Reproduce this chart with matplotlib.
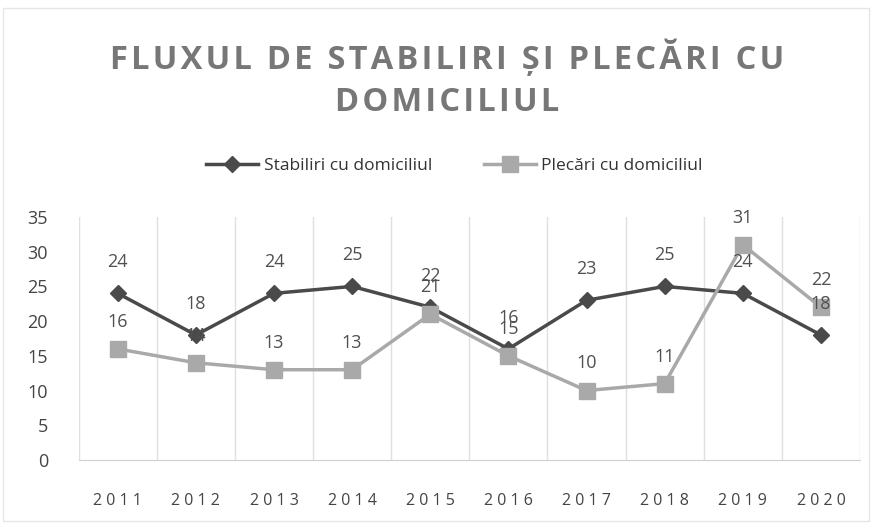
import matplotlib.pyplot as plt
from matplotlib.patches import Rectangle

# Date
ani = ["2011", "2012", "2013", "2014", "2015", "2016", "2017", "2018", "2019", "2020"]
stabiliri = [24, 18, 24, 25, 22, 16, 23, 25, 24, 18]
plecari = [16, 14, 13, 13, 21, 15, 10, 11, 31, 22]
titlu = ["FLUXUL DE STABILIRI ȘI PLECĂRI CU", "DOMICILIUL"]

plt.rcParams['font.family'] = ['Open Sans', 'DejaVu Sans']

fig = plt.figure(figsize=(8.74, 5.26), dpi=100)
ax = fig.add_axes([0.090, 0.1255, 0.894, 0.462])

x = list(range(len(ani)))
ax.plot(x, stabiliri, color="#4a4a4a", lw=2.5, marker="D", ms=8,
        label="Stabiliri cu domiciliul")
ax.plot(x, plecari, color="#a9a9a9", lw=2.5, marker="s", ms=11,
        label="Plecări cu domiciliul")

# Etichete de date deasupra punctelor
for xi, v in zip(x, stabiliri):
    ax.annotate(str(v), (xi, v), xytext=(0, 16), textcoords="offset points",
                ha="center", va="bottom", fontsize=13, color="#505050")
for xi, v in zip(x, plecari):
    ax.annotate(str(v), (xi, v), xytext=(0, 13), textcoords="offset points",
                ha="center", va="bottom", fontsize=13, color="#505050")

ax.set_xlim(-0.5, len(ani) - 0.5)
ax.set_ylim(0, 35)
ax.set_yticks(range(0, 36, 5))
ax.set_xticks(x)
ax.set_xticklabels([" ".join(a) for a in ani], fontsize=11.5, color="#444444")
ax.tick_params(axis="y", labelsize=13, labelcolor="#444444", length=0, pad=22)
ax.tick_params(axis="x", length=0, pad=24)

# Linii verticale intre categorii
for b in range(0, len(ani) + 1):
    ax.axvline(b - 0.5, color="#e0e0e0", lw=1, zorder=0)
for s in ["top", "right", "left"]:
    ax.spines[s].set_visible(False)
ax.spines["bottom"].set_color("#d0d0d0")

# Titlu cu spatiere intre litere
fig.text(0.512, 0.89, "\u200a".join(titlu[0]), ha="center", va="center",
         fontsize=23.5, fontweight="bold", color="#777777")
fig.text(0.512, 0.805, "\u200a".join(titlu[1]), ha="center", va="center",
         fontsize=23.5, fontweight="bold", color="#777777")

fig.legend(loc="center", bbox_to_anchor=(0.52, 0.685), ncol=2, frameon=False,
           fontsize=12.5, handlelength=3, handletextpad=0.3, columnspacing=3,
           labelcolor="#333333")

fig.patches.append(Rectangle((0.004, 0.01), 0.99, 0.975, transform=fig.transFigure,
                             fill=False, edgecolor="#e6e6e6", lw=1))

fig.savefig("out.png", dpi=100)
